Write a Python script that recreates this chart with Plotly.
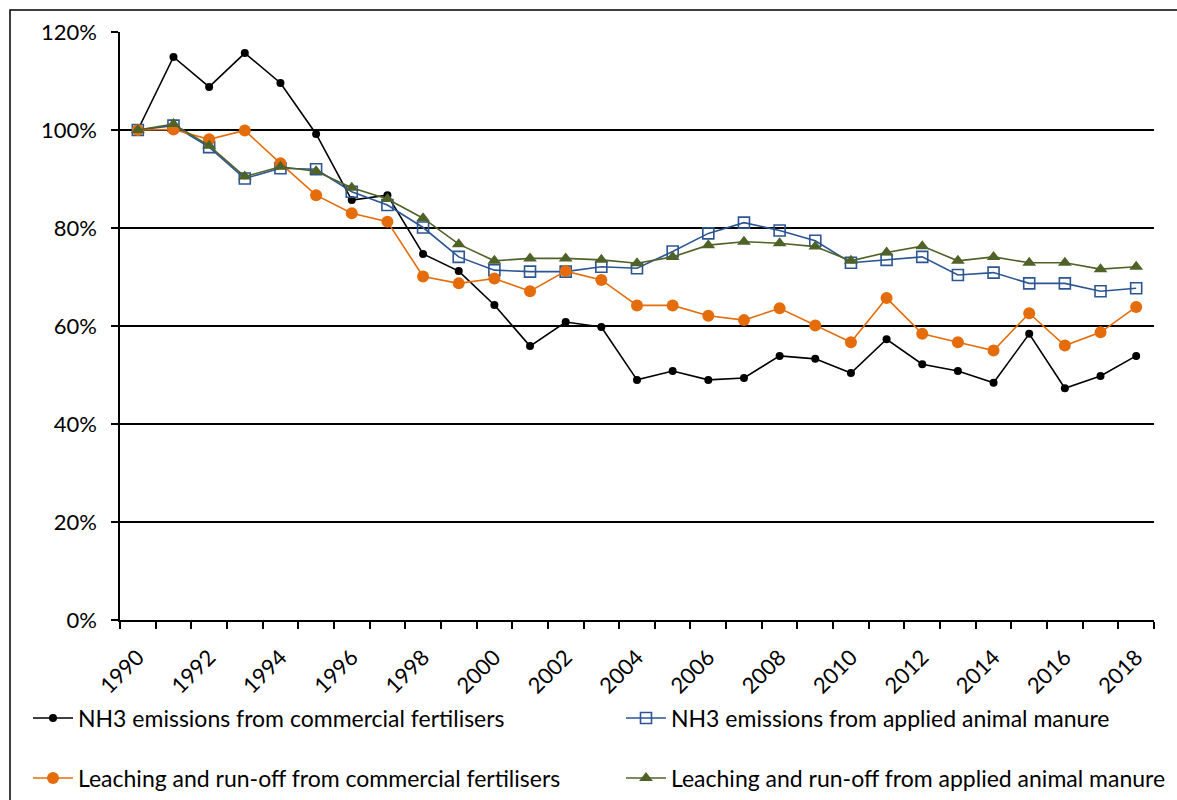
import plotly.graph_objects as go

years = list(range(1990, 2019))

nh3_fert = [100, 114.9, 108.8, 115.7, 109.6, 99.2, 85.7, 86.7, 74.7, 71.2, 64.3, 55.9, 60.8, 59.8,
            49.0, 50.8, 49.0, 49.4, 53.9, 53.3, 50.4, 57.3, 52.2, 50.8, 48.4, 58.4, 47.3, 49.8, 53.9]
nh3_manure = [100, 100.9, 96.5, 90.1, 92.2, 92.0, 87.4, 84.7, 80.1, 74.1, 71.4, 71.1, 71.1, 72.1,
              71.8, 75.2, 78.9, 81.1, 79.5, 77.4, 72.9, 73.5, 74.1, 70.4, 70.9, 68.7, 68.7, 67.1, 67.7]
leach_fert = [100, 100.1, 98.1, 99.9, 93.2, 86.7, 83.0, 81.3, 70.1, 68.7, 69.7, 67.1, 71.2, 69.4,
              64.2, 64.2, 62.1, 61.2, 63.6, 60.1, 56.7, 65.7, 58.4, 56.7, 55.0, 62.6, 56.0, 58.7, 63.9]
leach_manure = [100, 101.2, 96.8, 90.5, 92.5, 91.6, 88.2, 85.9, 82.0, 76.7, 73.3, 73.8, 73.8, 73.5,
                72.8, 74.1, 76.5, 77.2, 76.9, 76.2, 73.3, 75.0, 76.3, 73.3, 74.1, 72.9, 72.9, 71.6, 72.1]

names = ["NH3 emissions from commercial fertilisers",
         "NH3 emissions from applied animal manure",
         "Leaching and run-off from commercial fertilisers",
         "Leaching and run-off from applied animal manure"]
tick_years = list(range(1990, 2019, 2))

FONT = "Lato"
W, H = 1177, 800
L, R, T, B = 120, 23, 32, 180
pw, ph = W - L - R, H - T - B

def px_x(p):
    return (p - L) / pw

def px_y(p):
    return (H - B - p) / ph

fig = go.Figure()
fig.add_trace(go.Scatter(x=years, y=[v / 100 for v in nh3_fert], name=names[0], mode="lines+markers",
                         line=dict(color="#000000", width=1.6),
                         marker=dict(symbol="circle", size=8, color="#000000"), legend="legend"))
fig.add_trace(go.Scatter(x=years, y=[v / 100 for v in nh3_manure], name=names[1], mode="lines+markers",
                         line=dict(color="#2C5593", width=1.6),
                         marker=dict(symbol="square-open", size=11, color="#2C5593", line=dict(width=1.6)),
                         legend="legend2"))
fig.add_trace(go.Scatter(x=years, y=[v / 100 for v in leach_fert], name=names[2], mode="lines+markers",
                         line=dict(color="#E46C0A", width=1.6),
                         marker=dict(symbol="circle", size=12, color="#E46C0A"), legend="legend3"))
fig.add_trace(go.Scatter(x=years, y=[v / 100 for v in leach_manure], name=names[3], mode="lines+markers",
                         line=dict(color="#4F6228", width=1.6),
                         marker=dict(symbol="triangle-up", size=12, color="#4F6228"), legend="legend4"))

legend_common = dict(orientation="h", xanchor="left", yanchor="middle",
                     itemwidth=40, bgcolor="rgba(0,0,0,0)",
                     font=dict(family=FONT, size=23, color="#000000"))

fig.update_layout(
    width=W, height=H,
    margin=dict(l=L, r=R, t=T, b=B, autoexpand=False),
    paper_bgcolor="white", plot_bgcolor="white",
    font=dict(family=FONT, size=19, color="#000000"),
    showlegend=True,
    legend=dict(x=px_x(28), y=px_y(718), **legend_common),
    legend2=dict(x=px_x(621), y=px_y(718), **legend_common),
    legend3=dict(x=px_x(28), y=px_y(778), **legend_common),
    legend4=dict(x=px_x(621), y=px_y(778), **legend_common),
    xaxis=dict(range=[1989.5, 2018.5], tickvals=tick_years, ticktext=[str(y) for y in tick_years],
               tickangle=-45, ticks="outside", ticklen=14, tickcolor="rgba(0,0,0,0)",
               showgrid=False, zeroline=False, showline=True, linecolor="#000000", linewidth=1.5,
               minor=dict(tick0=1989.5, dtick=1, ticks="outside", ticklen=7, tickcolor="#000000",
                          tickwidth=1.5, showgrid=False),
               tickfont=dict(family=FONT, size=22)),
    yaxis=dict(range=[0, 1.2], dtick=0.2, tickformat=".0%", ticks="outside", ticklen=7,
               tickcolor="#000000", tickwidth=1.5, showgrid=True, gridcolor="#000000", gridwidth=1.5,
               zeroline=False, showline=True, linecolor="#000000", linewidth=1.5,
               ticklabelstandoff=10, tickfont=dict(family=FONT, size=22)),
    shapes=[dict(type="rect", xref="paper", yref="paper",
                 x0=px_x(10), x1=px_x(1200), y0=px_y(830), y1=px_y(10),
                 line=dict(color="#000000", width=1.5), fillcolor="rgba(0,0,0,0)", layer="below")],
)

fig.write_html("out.html", config={"displayModeBar": False},
               post_script="document.body.style.margin='0';")
